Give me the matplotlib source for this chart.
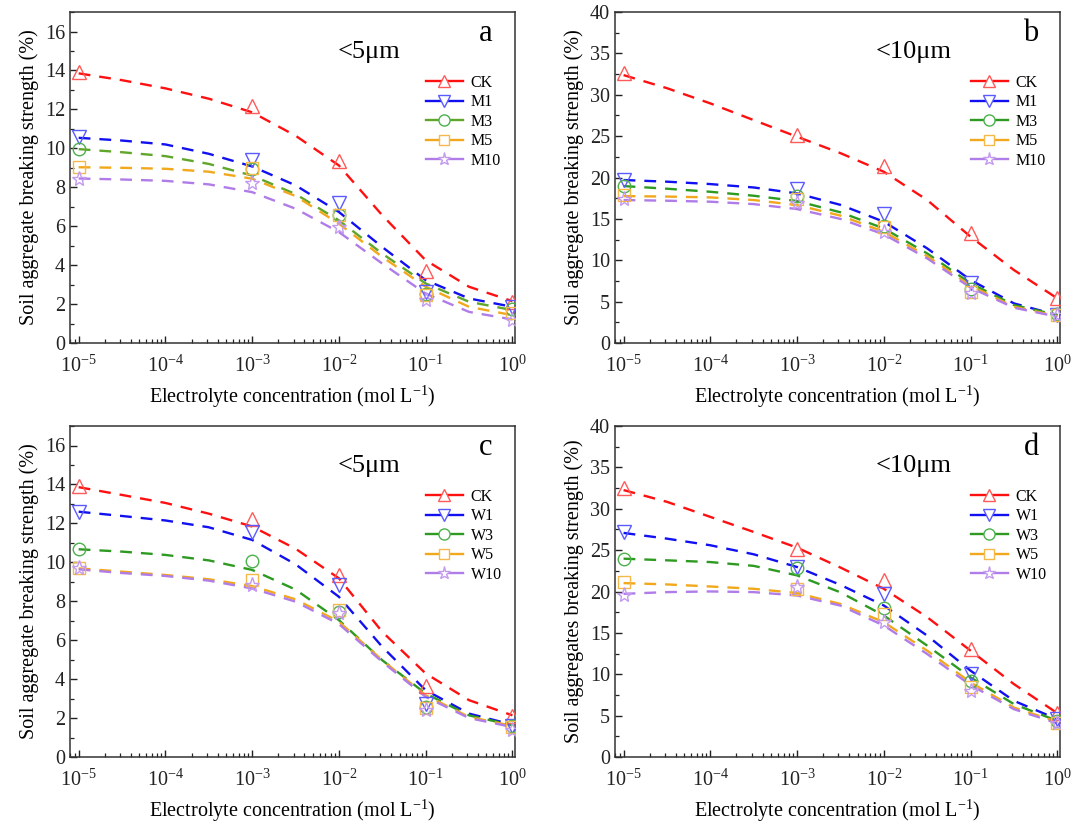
import matplotlib
matplotlib.use("Agg")
import matplotlib.pyplot as plt
from matplotlib.lines import Line2D
from matplotlib.ticker import MultipleLocator, LogLocator, NullFormatter

plt.rcParams['font.family'] = ['Liberation Serif', 'DejaVu Serif']
plt.rcParams['mathtext.fontset'] = 'custom'
plt.rcParams['mathtext.rm'] = 'Liberation Serif'
plt.rcParams['mathtext.it'] = 'Liberation Serif:italic'

# measured points (mol/L)
conc = [1e-5, 1e-3, 1e-2, 1e-1, 1.0]
# fitted curve, every half decade
fit_conc = [1e-5, 3.16e-5, 1e-4, 3.16e-4, 1e-3, 3.16e-3, 1e-2, 3.16e-2, 1e-1, 3.16e-1, 1.0]

# panel a  (<5 um, M series)
a_ck = [13.9, 12.19, 9.37, 3.69, 2.12]
a_m1 = [10.57, 9.41, 7.2, 2.63, 1.86]
a_m3 = [9.96, 8.95, 6.6, 2.5, 1.75]
a_m5 = [9.05, 8.98, 6.6, 2.46, 1.55]
a_m10 = [8.45, 8.21, 5.96, 2.2, 1.18]
a_ck_fit = [13.85, 13.5, 13.08, 12.55, 11.85, 10.65, 9.12, 6.56, 4.25, 2.89, 2.15]
a_m1_fit = [10.54, 10.4, 10.2, 9.72, 9.07, 8.1, 6.73, 4.93, 3.23, 2.29, 1.86]
a_m3_fit = [9.96, 9.8, 9.6, 9.2, 8.6, 7.65, 6.3, 4.59, 3.06, 2.12, 1.69]
a_m5_fit = [9.03, 9.0, 8.95, 8.8, 8.44, 7.55, 6.13, 4.42, 2.89, 1.86, 1.43]
a_m10_fit = [8.45, 8.4, 8.33, 8.15, 7.75, 6.9, 5.7, 4.08, 2.54, 1.6, 1.21]

# panel b  (<10 um, M series)
b_ck = [32.58, 25.2, 21.4, 13.25, 5.4]
b_m1 = [19.7, 18.57, 15.6, 7.2, 3.4]
b_m3 = [18.97, 17.76, 14.1, 6.5, 3.46]
b_m5 = [17.9, 17.36, 13.97, 6.2, 3.38]
b_m10 = [17.36, 16.87, 13.45, 6.0, 3.34]
b_ck_fit = [32.38, 30.8, 28.96, 26.94, 24.93, 22.95, 20.7, 17.28, 12.85, 8.82, 5.4]
b_m1_fit = [19.7, 19.5, 19.21, 18.8, 18.08, 16.7, 14.66, 11.44, 7.61, 4.79, 3.38]
b_m3_fit = [18.97, 18.65, 18.28, 17.8, 17.16, 15.8, 13.85, 10.83, 7.21, 4.59, 3.38]
b_m5_fit = [17.76, 17.7, 17.6, 17.28, 16.67, 15.4, 13.45, 10.5, 6.93, 4.39, 3.26]
b_m10_fit = [17.28, 17.2, 17.08, 16.79, 16.19, 15.0, 13.13, 10.23, 6.69, 4.27, 3.18]

# panel c  (<5 um, W series)
c_ck = [13.94, 12.21, 9.35, 3.64, 2.09]
c_w1 = [12.6, 11.58, 8.83, 2.71, 1.6]
c_w3 = [10.69, 10.07, 7.46, 2.57, 1.6]
c_w5 = [9.69, 9.09, 7.55, 2.54, 1.54]
c_w10 = [9.69, 8.83, 7.38, 2.4, 1.41]
c_ck_fit = [13.86, 13.46, 13.05, 12.5, 11.84, 10.7, 9.18, 6.43, 4.29, 2.92, 2.14]
c_w1_fit = [12.6, 12.38, 12.15, 11.8, 11.15, 9.9, 8.23, 5.66, 3.43, 2.23, 1.66]
c_w3_fit = [10.67, 10.55, 10.38, 10.1, 9.61, 8.6, 7.03, 4.97, 3.26, 2.14, 1.63]
c_w5_fit = [9.69, 9.52, 9.35, 9.13, 8.78, 8.1, 6.95, 4.97, 3.17, 2.06, 1.6]
c_w10_fit = [9.64, 9.45, 9.3, 9.06, 8.66, 7.98, 6.83, 4.89, 3.09, 2.0, 1.54]

# panel d  (<10 um, W series)
d_ck = [32.46, 25.18, 21.34, 13.06, 5.3]
d_w1 = [27.2, 22.96, 19.73, 10.02, 4.57]
d_w3 = [23.97, 22.84, 17.99, 9.22, 4.37]
d_w5 = [21.14, 20.33, 17.3, 8.41, 4.16]
d_w10 = [19.64, 20.53, 16.29, 8.0, 4.08]
d_ck_fit = [32.26, 30.84, 29.02, 27.2, 25.3, 22.9, 20.33, 16.9, 12.85, 8.81, 5.3]
d_w1_fit = [27.08, 26.39, 25.59, 24.5, 22.96, 20.8, 18.31, 14.67, 10.43, 6.79, 4.57]
d_w3_fit = [23.97, 23.77, 23.56, 23.1, 21.95, 19.9, 17.1, 13.46, 9.62, 6.39, 4.37]
d_w5_fit = [21.02, 20.86, 20.61, 20.33, 19.81, 18.5, 16.29, 12.85, 9.01, 5.98, 4.24]
d_w10_fit = [19.72, 19.93, 20.01, 19.93, 19.52, 18.3, 15.89, 12.45, 8.69, 5.78, 4.08]

m_names = ['CK', 'M1', 'M3', 'M5', 'M10']
w_names = ['CK', 'W1', 'W3', 'W5', 'W10']

line_cols = ['#FF1010', '#1010F0', '#2E9A22', '#F2A81C', '#B07CE8']
line_cols_a = ['#FF1010', '#1010F0', '#5FA62A', '#F2A81C', '#B07CE8']
mark_cols = ['#FF5A5A', '#5A5AFF', '#4CB04C', '#F5B84A', '#C39AF0']
markers = ['^', 'v', 'o', 's', '*']
msizes = [10, 10, 9, 8.5, 11]
leg_sizes = [8.5, 8.5, 8, 7.5, 9.5]

panels = [
    dict(pos=[0.0651, 0.5842, 0.414, 0.4012], ymax=17, major=2,
         pts=[a_ck, a_m1, a_m3, a_m5, a_m10],
         fits=[a_ck_fit, a_m1_fit, a_m3_fit, a_m5_fit, a_m10_fit],
         names=m_names, size='<5μm', letter='a', cols=line_cols_a,
         ylabel='Soil aggregate breaking strength (%)'),
    dict(pos=[0.572, 0.5842, 0.414, 0.4012], ymax=40, major=5,
         pts=[b_ck, b_m1, b_m3, b_m5, b_m10],
         fits=[b_ck_fit, b_m1_fit, b_m3_fit, b_m5_fit, b_m10_fit],
         names=m_names, size='<10μm', letter='b', cols=line_cols,
         ylabel='Soil aggregate breaking strength (%)'),
    dict(pos=[0.0651, 0.0824, 0.414, 0.4012], ymax=17, major=2,
         pts=[c_ck, c_w1, c_w3, c_w5, c_w10],
         fits=[c_ck_fit, c_w1_fit, c_w3_fit, c_w5_fit, c_w10_fit],
         names=w_names, size='<5μm', letter='c', cols=line_cols,
         ylabel='Soil aggregate breaking strength (%)'),
    dict(pos=[0.572, 0.0824, 0.414, 0.4012], ymax=40, major=5,
         pts=[d_ck, d_w1, d_w3, d_w5, d_w10],
         fits=[d_ck_fit, d_w1_fit, d_w3_fit, d_w5_fit, d_w10_fit],
         names=w_names, size='<10μm', letter='d', cols=line_cols,
         ylabel='Soil aggregates breaking strength (%)'),
]

fig = plt.figure(figsize=(10.75, 8.25), dpi=100)

for p in panels:
    ax = fig.add_axes(p['pos'])
    handles = []
    for i in range(5):
        ax.plot(fit_conc, p['fits'][i], color=p['cols'][i], lw=1.7,
                dashes=(5, 3.8), zorder=2)
        ax.plot(conc, p['pts'][i], ls='none', marker=markers[i],
                ms=msizes[i], mfc='none', mec=mark_cols[i], mew=1.0, zorder=3)
        handles.append(Line2D([], [], color=p['cols'][i], lw=1.7,
                              marker=markers[i], ms=leg_sizes[i], mfc='white',
                              mec=mark_cols[i], mew=1.0))
    ax.set_xscale('log')
    ax.set_xlim(10 ** -5.1, 10 ** 0.03)
    ax.set_ylim(0, p['ymax'])
    ax.yaxis.set_major_locator(MultipleLocator(p['major']))
    ax.yaxis.set_minor_locator(MultipleLocator(p['major'] / 2))
    ax.xaxis.set_major_locator(LogLocator(base=10, numticks=10))
    ax.xaxis.set_minor_locator(LogLocator(base=10, subs=range(2, 10), numticks=20))
    ax.xaxis.set_minor_formatter(NullFormatter())
    ax.tick_params(which='both', direction='in', top=False, right=False,
                   labelsize=14.5, colors='#222222')
    ax.tick_params(which='major', length=5, width=1)
    ax.tick_params(which='minor', length=3, width=0.9)
    ax.tick_params(axis='x', pad=9)
    for s in ax.spines.values():
        s.set_color('#333333')
        s.set_linewidth(1.1)
    ax.set_xlabel('Electrolyte concentration (mol L$^{\\mathregular{-1}}$)',
                  fontsize=14.5, labelpad=5)
    ax.set_ylabel(p['ylabel'], fontsize=14.5, labelpad=4)
    ax.text(0.672, 0.879, p['size'], transform=ax.transAxes, fontsize=19,
            ha='center', va='center')
    ax.text(0.935, 0.935, p['letter'], transform=ax.transAxes, fontsize=22,
            ha='center', va='center')
    ax.legend(handles, p['names'], loc='upper left', bbox_to_anchor=(0.80, 0.81),
              frameon=False, fontsize=11.5, handlelength=2.3, handletextpad=0.5,
              labelspacing=0.22, borderaxespad=0, borderpad=0)

fig.savefig('out.png', dpi=100)
